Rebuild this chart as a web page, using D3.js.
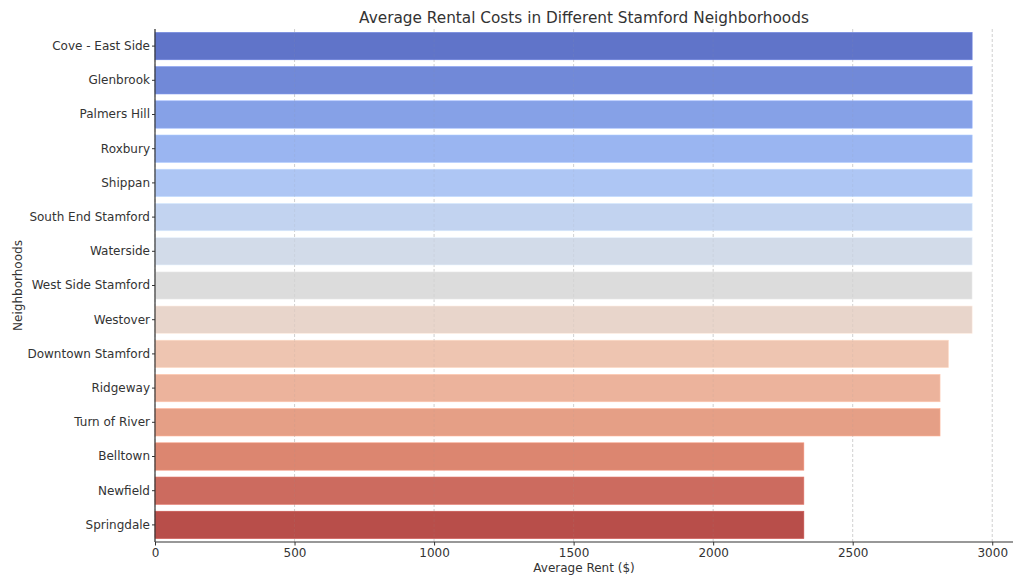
<!DOCTYPE html>
<html><head><meta charset="utf-8">
<script src="https://cdn.jsdelivr.net/npm/d3@7"></script>
<style>body{margin:0;background:#fff;} svg{display:block;font-family:"DejaVu Sans",sans-serif;}</style>
</head><body>
<svg id="c" width="1024" height="585"></svg>
<script>
const neighborhoods = ["Cove - East Side","Glenbrook","Palmers Hill","Roxbury","Shippan","South End Stamford","Waterside","West Side Stamford","Westover","Downtown Stamford","Ridgeway","Turn of River","Belltown","Newfield","Springdale"];
const rents = [2928,2928,2928,2928,2928,2928,2928,2928,2928,2843,2813,2813,2325,2325,2325];
const colors = ["#6074c9","#7189d8","#86a1e7","#9ab5f1","#aec6f4","#c2d3f0","#d2dbe9","#dcdcdc","#e8d5cb","#eec5b1","#ecb39c","#e59f86","#dc8670","#cc6b5f","#b84e4a"];
const xTicks = [0,500,1000,1500,2000,2500,3000];

const svg = d3.select("#c");
const L=155, R=1013, T=29, B=542;
const x = d3.scaleLinear().domain([0, d3.max(rents)*1.05]).range([L,R]);
const y = d3.scaleBand().domain(neighborhoods).range([T,B]).paddingInner(0.2).paddingOuter(0.1);
const txt="#333333";

// grid
svg.append("g").selectAll("line").data(xTicks).join("line")
  .attr("x1",d=>x(d)).attr("x2",d=>x(d)).attr("y1",T).attr("y2",B)
  .attr("stroke","#cfcfcf").attr("stroke-width",0.8).attr("stroke-dasharray","3,2");

// bars
svg.append("g").selectAll("rect").data(neighborhoods).join("rect")
  .attr("x",x(0)).attr("y",d=>y(d))
  .attr("width",(d,i)=>x(rents[i])-x(0)).attr("height",y.bandwidth())
  .attr("fill",(d,i)=>colors[i])
  .attr("stroke",(d,i)=>d3.color(colors[i]).brighter(0.3)).attr("stroke-width",0.6);

// faint grid over bars
svg.append("g").selectAll("line").data(xTicks.slice(1)).join("line")
  .attr("x1",d=>x(d)).attr("x2",d=>x(d)).attr("y1",T).attr("y2",B)
  .attr("stroke","#999999").attr("stroke-opacity",0.15).attr("stroke-width",0.8).attr("stroke-dasharray","3,2");

// axes
const xa = svg.append("g").attr("transform",`translate(0,${B})`)
  .call(d3.axisBottom(x).tickValues(xTicks).tickSize(3.5).tickPadding(3).tickFormat(d3.format("d")));
const ya = svg.append("g").attr("transform",`translate(${L},0)`)
  .call(d3.axisLeft(y).tickSize(3).tickPadding(2));
[xa,ya].forEach(a=>{
  a.select(".domain").attr("stroke",txt).attr("stroke-width",1.2);
  a.selectAll(".tick line").attr("stroke",txt);
  a.selectAll(".tick text").attr("fill",txt).style("font-size","12px").style("font-family","DejaVu Sans");
});
xa.select(".domain").attr("d",`M${L},0H${R}`);
ya.select(".domain").attr("d",`M0,${T}V${B}`);

svg.append("text").attr("x",(L+R)/2).attr("y",23).attr("text-anchor","middle")
  .attr("fill",txt).style("font-size","15.3px").text("Average Rental Costs in Different Stamford Neighborhoods");
svg.append("text").attr("x",(L+R)/2).attr("y",572).attr("text-anchor","middle")
  .attr("fill",txt).style("font-size","12px").text("Average Rent ($)");
svg.append("text").attr("transform",`translate(22,${(T+B)/2}) rotate(-90)`).attr("text-anchor","middle")
  .attr("fill",txt).style("font-size","12px").text("Neighborhoods");
</script>
</body></html>
